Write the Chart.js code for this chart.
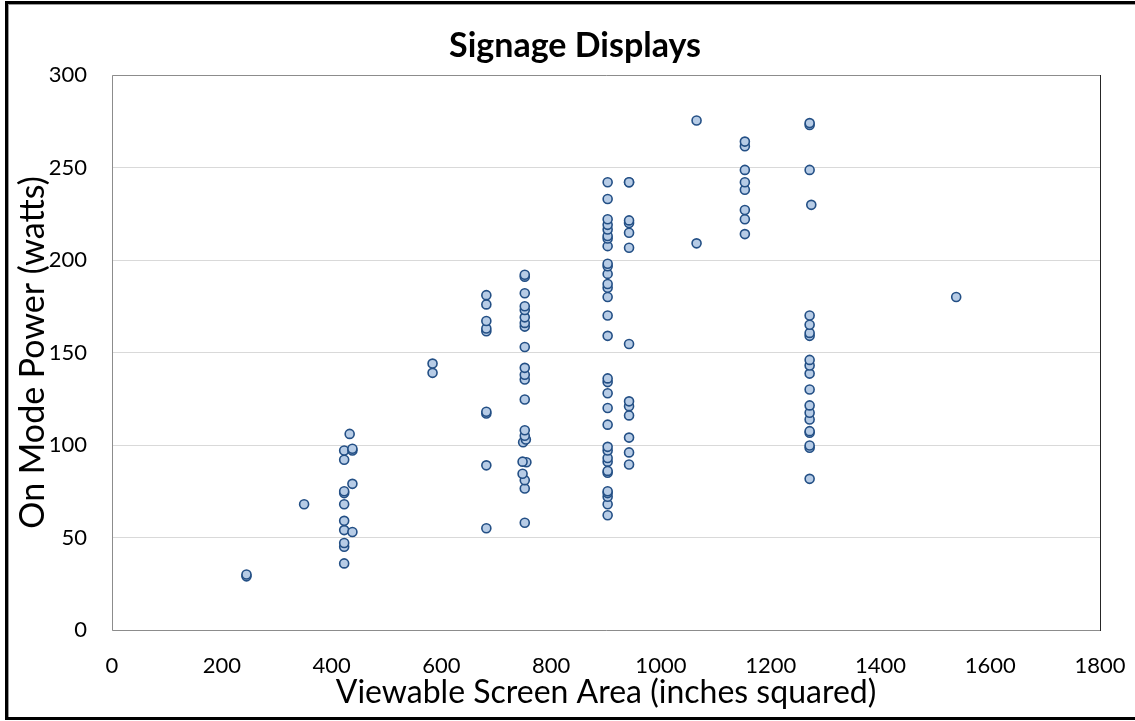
<!DOCTYPE html>
<html>
<head>
<meta charset="utf-8">
<script src="https://cdn.jsdelivr.net/npm/chart.js@4.4.1/dist/chart.umd.min.js"></script>
<style>
  html, body { margin: 0; padding: 0; background: #ffffff; }
  #wrap { width: 1135px; height: 721px; position: relative; }
  canvas { display: block; }
</style>
</head>
<body>
<div id="wrap"><canvas id="chart" width="1135" height="721"></canvas></div>
<script>
const chartTitle = 'Signage Displays';
const xAxisTitle = 'Viewable Screen Area (inches squared)';
const yAxisTitle = 'On Mode Power (watts)';

// Viewable screen area (x) and on-mode power (y), paired by index
const screenArea = [
  245, 245,
  350,
  423, 423, 423, 423, 423, 423, 423, 423, 423, 423,
  438, 438, 438, 438,
  433,
  584, 584,
  682, 682, 682, 682, 682, 682, 682, 682, 682,
  752, 752, 752, 748, 755, 748, 749, 754, 752, 752, 752, 752, 752, 752, 752, 752, 752, 752, 752, 752, 752, 752, 752,
  903, 903, 903, 903, 903, 903, 903, 903, 903, 903, 903, 903, 903, 903, 903, 903, 903, 903, 903, 903, 903, 903, 903, 903, 903, 903, 903, 903, 903, 903, 903, 903,
  942, 942, 942, 942, 942, 942, 942, 942, 942, 942, 942, 942, 942,
  1065, 1065,
  1153, 1153, 1153, 1153, 1153, 1153, 1153, 1153,
  1271, 1271, 1271, 1271, 1271, 1271, 1271, 1271, 1271, 1271, 1271, 1271, 1271, 1271, 1271, 1271, 1274, 1271, 1271, 1271,
  1538
];
const onModePower = [
  29, 30,
  68,
  36, 45, 47, 54, 59, 68, 74, 75, 92, 97,
  53, 79, 97, 98,
  106,
  139, 144,
  55, 89, 117, 118, 161.5, 163, 167, 176, 181,
  58, 76.5, 81, 84.5, 90.7, 91, 101.5, 103, 105, 108, 124.6, 135.4, 138, 141.7, 153, 164, 166, 169, 173, 175, 182, 191, 192,
  62, 68, 72, 74, 75, 85, 86, 91, 93, 97, 99, 111, 120, 128, 134, 136, 159, 170, 180, 185, 187, 192.5, 196.6, 198, 207.5, 211.6, 213, 216.5, 219, 222, 233, 242,
  89.5, 96, 104, 116, 121, 123.6, 154.6, 206.6, 214.7, 220, 221.4, 242, 242,
  209, 275.4,
  214, 222, 227, 238, 242, 248.7, 261.5, 264,
  81.7, 98.5, 99.7, 106.6, 107.5, 113.8, 117.4, 121.4, 130, 138.6, 143, 146, 159, 160.6, 165, 170, 229.8, 248.7, 273, 274,
  180
];

const xTickMin = 0, xTickMax = 1800, xTickStep = 200;
const yTickMin = 0, yTickMax = 300, yTickStep = 50;

const points = screenArea.map((x, i) => ({ x: x, y: onModePower[i] }));

const FONT = 'Lato, "Open Sans", "DejaVu Sans", sans-serif';

const decorPlugin = {
  id: 'decor',
  beforeDatasetsDraw(chart) {
    const { ctx, chartArea: a } = chart;
    ctx.save();
    ctx.lineWidth = 1;
    ctx.strokeStyle = '#8c8c8c';
    ctx.beginPath();
    ctx.moveTo(a.left + 0.5, a.bottom + 0.5);
    ctx.lineTo(a.left + 0.5, a.top + 0.5);
    ctx.lineTo(a.right + 0.5, a.top + 0.5);
    ctx.moveTo(a.left + 0.5, a.bottom + 0.5);
    ctx.lineTo(a.right + 0.5, a.bottom + 0.5);
    ctx.stroke();
    ctx.strokeStyle = '#262626';
    ctx.beginPath();
    ctx.moveTo(a.right + 0.5, a.top);
    ctx.lineTo(a.right + 0.5, a.bottom + 1);
    ctx.stroke();
    ctx.restore();
  },
  afterDraw(chart) {
    const { ctx, width, height } = chart;
    ctx.save();
    // chart title
    ctx.fillStyle = '#000000';
    ctx.font = 'bold 34px ' + FONT;
    ctx.textAlign = 'center';
    ctx.textBaseline = 'middle';
    ctx.fillText(chartTitle, 575, 46);
    // outer frame
    ctx.fillStyle = '#000000';
    ctx.fillRect(5, 1, width - 5, 3);
    ctx.fillRect(5, 1, 3, height - 2);
    ctx.fillRect(5, height - 4, width - 5, 3);
    ctx.fillStyle = '#9a9a9a';
    ctx.fillRect(8, 4, width - 8, 1);
    ctx.fillRect(8, 4, 1, height - 8);
    ctx.restore();
  }
};

const plainNumber = (v) => String(v);

new Chart(document.getElementById('chart'), {
  type: 'scatter',
  data: {
    datasets: [{
      data: points,
      pointRadius: 4.5,
      pointHoverRadius: 4.5,
      pointBorderWidth: 1.6,
      backgroundColor: '#b7cce6',
      borderColor: '#234f85'
    }]
  },
  options: {
    responsive: false,
    animation: false,
    devicePixelRatio: 1,
    layout: { padding: { left: 8, top: 75, right: 35, bottom: 0 } },
    plugins: {
      legend: { display: false },
      tooltip: { enabled: false },
      title: { display: false }
    },
    scales: {
      x: {
        type: 'linear',
        min: xTickMin,
        max: xTickMax,
        afterFit(scale) {
          scale.height = 91;
          scale.paddingLeft = 0;
          scale.paddingRight = 0;
        },
        ticks: {
          stepSize: xTickStep,
          color: '#000000',
          font: { family: FONT, size: 22 },
          padding: 23,
          maxRotation: 0,
          callback: plainNumber
        },
        grid: { display: false, drawTicks: false },
        border: { display: false },
        title: {
          display: true,
          text: xAxisTitle,
          color: '#000000',
          font: { family: FONT, size: 32 },
          padding: { top: 0, bottom: 9 }
        }
      },
      y: {
        type: 'linear',
        min: yTickMin,
        max: yTickMax,
        afterFit(scale) { scale.width = 104; },
        ticks: {
          stepSize: yTickStep,
          color: '#000000',
          font: { family: FONT, size: 22 },
          padding: 25,
          callback: plainNumber
        },
        grid: { color: '#d9d9d9', lineWidth: 1, drawTicks: false },
        border: { display: false },
        title: {
          display: true,
          text: yAxisTitle,
          color: '#000000',
          font: { family: FONT, size: 34 },
          padding: { top: 5, bottom: 0 }
        }
      }
    }
  },
  plugins: [decorPlugin]
});
</script>
</body>
</html>
